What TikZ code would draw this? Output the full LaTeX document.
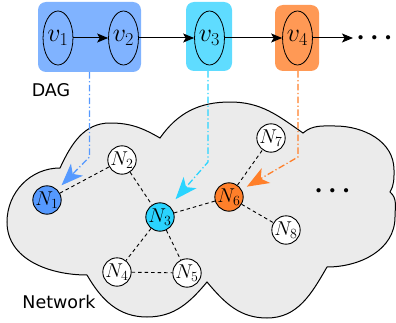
\RequirePackage{fix-cm}
\documentclass[tikz,border=0pt]{standalone}
\usepackage{amsmath}
\usepackage{fontspec}
\setsansfont{DejaVu Sans}
\usetikzlibrary{arrows.meta,shapes.geometric}

\definecolor{grpblue}{HTML}{80B3FF}
\definecolor{grpcyan}{HTML}{5FDCFF}
\definecolor{grporange}{HTML}{FF9955}
\definecolor{nodeblue}{HTML}{5599FF}
\definecolor{nodecyan}{HTML}{2AD4FF}
\definecolor{nodeorange}{HTML}{FF7F2A}
\definecolor{cloudgray}{HTML}{EBEBEB}

\tikzset{
  grp/.style={rounded corners=8pt, inner sep=0pt},
  vertex/.style={draw=black, line width=0.8pt, ellipse, minimum width=27pt,
    minimum height=54pt, inner sep=0pt, font=\fontsize{26}{26}\selectfont},
  dagarrow/.style={line width=1pt, -{Stealth[length=11pt,width=9pt,inset=2.5pt]}},
  netnode/.style={draw=black, line width=0.9pt, circle, minimum size=27pt,
    inner sep=0pt, fill=white, font=\fontsize{20}{20}\selectfont},
  link/.style={line width=0.9pt, dash pattern=on 3.5pt off 3pt},
  flow/.style={line width=1.3pt, dash pattern=on 6.5pt off 2.5pt on 1.2pt off 2.5pt,
    -{Stealth[length=22pt,width=17pt,inset=6pt]}},
  lbl/.style={font=\sffamily\fontsize{17.5}{17.5}\selectfont},
  more/.style={font=\fontsize{27}{27}\selectfont, inner sep=0pt},
}

\begin{document}
\begin{tikzpicture}[x=1pt,y=1pt]
\useasboundingbox (0,0) rectangle (396,322);

% the network cloud
\path[draw=black, fill=cloudgray, line width=1pt]
  (60,154) to[out=65,in=180] (110,199) to[out=0,in=150] (160,184)
  to[out=55,in=180] (230,220) to[out=0,in=145] (303,189)
  to[out=40,in=180] (335,196) to[out=0,in=90] (394,152) to[out=-90,in=60] (390,130)
  to[out=-40,in=90] (395,105) to[out=-90,in=0] (327,55)
  to[out=-120,in=0] (267,4) to[out=180,in=-50] (207,40)
  to[out=-130,in=0] (147,5) to[out=180,in=-60] (87,47)
  to[out=180,in=-90] (7,100) to[out=90,in=180] cycle;

% groups of the DAG
\node[grp, fill=grpblue, minimum width=103pt, minimum height=70pt] (g12) at (89.5,285) {};
\node[grp, fill=grpcyan, minimum width=46pt, minimum height=69pt] (g3) at (209,285.5) {};
\node[grp, fill=grporange, minimum width=44pt, minimum height=66pt] (g4) at (297,284) {};

% DAG vertices
\node[vertex] (v1) at (58,284) {$v_1$};
\node[vertex] (v2) at (123.5,284) {$v_2$};
\node[vertex] (v3) at (209.5,284) {$v_3$};
\node[vertex] (v4) at (297.5,284) {$v_4$};
\coordinate (vend) at (353,284);
\node[more] (vdots) at (377,284) {$\boldsymbol{\cdots}$};

\draw[dagarrow] (v1) -- (v2);
\draw[dagarrow] (v2) -- (v3);
\draw[dagarrow] (v3) -- (v4);
\draw[dagarrow] (v4) -- (vend);

\node[lbl] (daglbl) at (51,232) {DAG};
\node[lbl] (netlbl) at (59,20) {Network};

% network nodes
\node[netnode, fill=nodeblue, minimum size=28pt] (N1) at (47,122) {$N_1$};
\node[netnode] (N2) at (122,162) {$N_2$};
\node[netnode, fill=nodecyan] (N3) at (160,105) {$N_3$};
\node[netnode] (N4) at (117,50) {$N_4$};
\node[netnode] (N5) at (187,49) {$N_5$};
\node[netnode, fill=nodeorange] (N6) at (229,125) {$N_6$};
\node[netnode] (N7) at (271,184) {$N_7$};
\node[netnode] (N8) at (286,92) {$N_8$};
\node[more] (ndots) at (335,131) {$\boldsymbol{\cdots}$};

\draw[link] (N1) -- (N2);
\draw[link] (N2) -- (N3);
\draw[link] (N3) -- (N4);
\draw[link] (N3) -- (N5);
\draw[link] (N4) -- (N5);
\draw[link] (N3) -- (N6);
\draw[link] (N6) -- (N7);
\draw[link] (N6) -- (N8);

% mapping of the groups onto the network
\coordinate (c1) at (g12.south |- 0,165);
\coordinate (c3) at (208,160);
\coordinate (c4) at (298,165);
\draw[flow, draw=nodeblue, shorten >=6pt] (g12.south) -- (c1) -- (N1);
\draw[flow, draw=nodecyan, shorten >=9pt] (g3.south -| c3) -- (c3) -- (N3);
\draw[flow, draw=nodeorange, shorten >=6pt] (g4.south -| c4) -- (c4) -- (N6);
\end{tikzpicture}
\end{document}
